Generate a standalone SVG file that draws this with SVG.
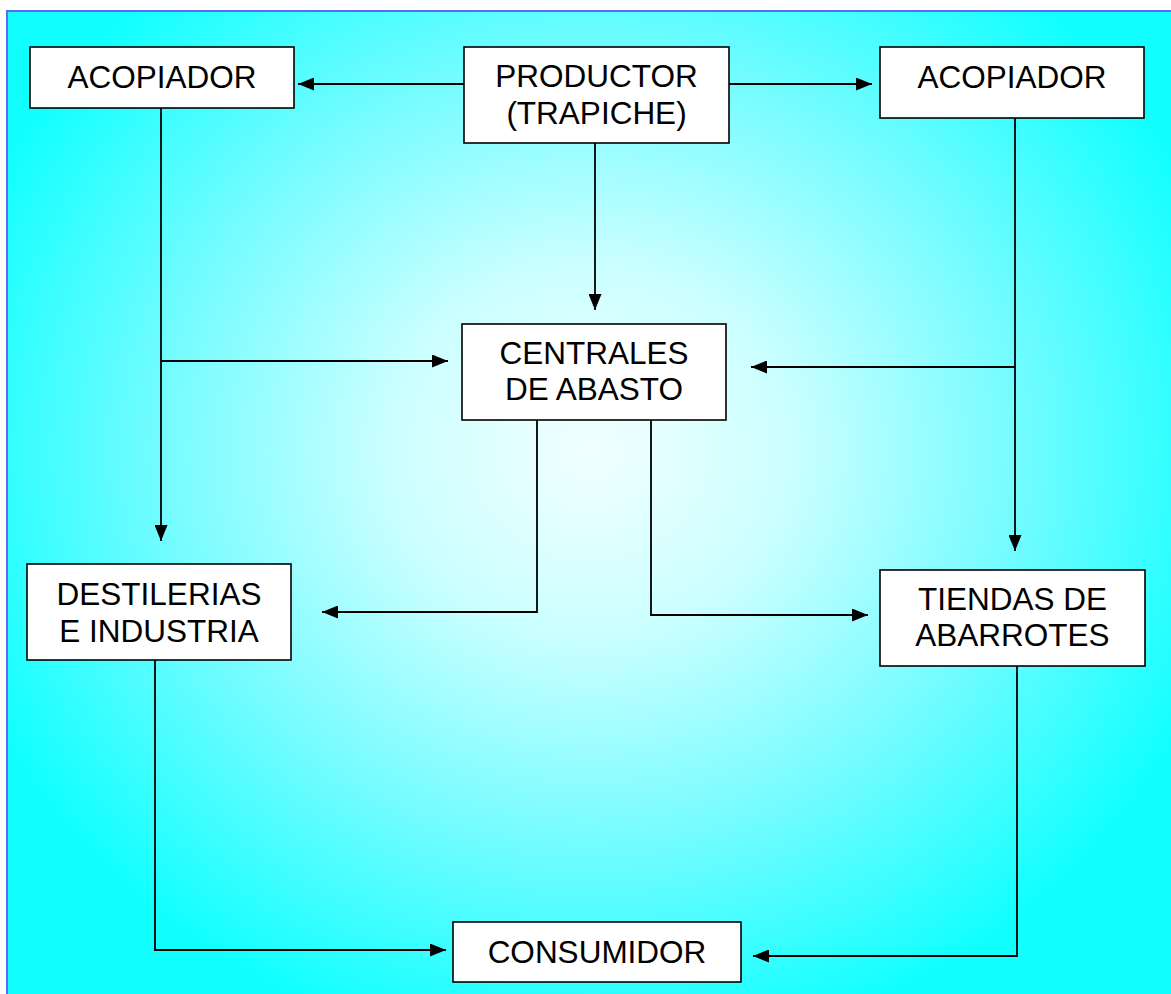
<svg xmlns="http://www.w3.org/2000/svg" width="1171" height="994" viewBox="0 0 1171 994">
<style>
.box{fill:#ffffff;stroke:#000000;stroke-width:1.6}
.lbl{font-family:"Liberation Sans",Arial,sans-serif;font-size:31.5px;fill:#000000;text-anchor:middle}
.ln{fill:none;stroke:#000000;stroke-width:1.8}
</style>
<defs>
<radialGradient id="bg" gradientUnits="userSpaceOnUse" cx="590" cy="450" r="660" gradientTransform="translate(590 450) scale(1 0.92) translate(-590 -450)">
<stop offset="0" stop-color="#f2ffff"/>
<stop offset="0.3" stop-color="#ccffff"/>
<stop offset="0.65" stop-color="#74fcff"/>
<stop offset="1" stop-color="#12ffff"/>
</radialGradient>
<marker id="ah" viewBox="0 0 16 13" refX="16" refY="6.5" markerWidth="16" markerHeight="13" markerUnits="userSpaceOnUse" orient="auto">
<path d="M0,0 L16,6.5 L0,13 Z" fill="#000000"/>
</marker>
</defs>
<rect x="0" y="0" width="1171" height="994" fill="#ffffff"/>
<rect x="7" y="11" width="1170" height="990" fill="url(#bg)"/>
<path d="M7,994 L7,11 L1171,11" fill="none" stroke="#5a6cf4" stroke-width="2"/>
<g id="connectors">
<path class="ln" d="M464,84 L298,84" marker-end="url(#ah)"/>
<path class="ln" d="M729,84 L872,84" marker-end="url(#ah)"/>
<path class="ln" d="M595,143 L595,310" marker-end="url(#ah)"/>
<path class="ln" d="M161,108 L161,541" marker-end="url(#ah)"/>
<path class="ln" d="M161,361 L448,361" marker-end="url(#ah)"/>
<path class="ln" d="M1015,118 L1015,551" marker-end="url(#ah)"/>
<path class="ln" d="M1015,367 L751,367" marker-end="url(#ah)"/>
<path class="ln" d="M537,420 L537,612 L322,612" marker-end="url(#ah)"/>
<path class="ln" d="M651,420 L651,615 L868,615" marker-end="url(#ah)"/>
<path class="ln" d="M155,660 L155,950 L446,950" marker-end="url(#ah)"/>
<path class="ln" d="M1017,666 L1017,956 L753,956" marker-end="url(#ah)"/>
</g>
<g id="acopiador-left">
<rect class="box" x="30" y="47" width="264" height="61"/>
<text class="lbl" x="162" y="88">ACOPIADOR</text>
</g>
<g id="productor">
<rect class="box" x="464" y="47" width="265" height="96"/>
<text class="lbl" x="596.5" y="87">PRODUCTOR</text>
<text class="lbl" x="596.5" y="124">(TRAPICHE)</text>
</g>
<g id="acopiador-right">
<rect class="box" x="880" y="47" width="264" height="71"/>
<text class="lbl" x="1012" y="88">ACOPIADOR</text>
</g>
<g id="centrales">
<rect class="box" x="462" y="324" width="264" height="96"/>
<text class="lbl" x="594" y="364">CENTRALES</text>
<text class="lbl" x="594" y="400">DE ABASTO</text>
</g>
<g id="destilerias">
<rect class="box" x="27" y="564" width="264" height="96"/>
<text class="lbl" x="159" y="605">DESTILERIAS</text>
<text class="lbl" x="159" y="642">E INDUSTRIA</text>
</g>
<g id="tiendas">
<rect class="box" x="880" y="570" width="265" height="96"/>
<text class="lbl" x="1012.5" y="610">TIENDAS DE</text>
<text class="lbl" x="1012.5" y="646">ABARROTES</text>
</g>
<g id="consumidor">
<rect class="box" x="453" y="922" width="288" height="60"/>
<text class="lbl" x="597" y="963">CONSUMIDOR</text>
</g>
</svg>
